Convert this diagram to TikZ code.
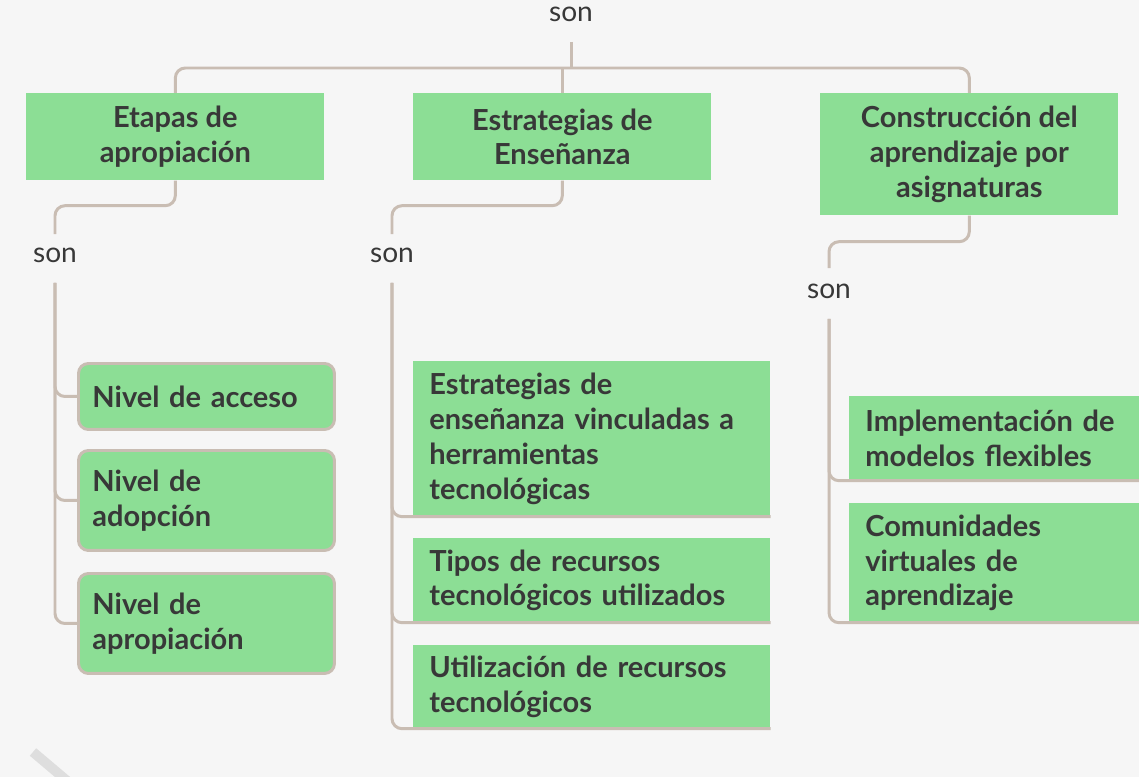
\documentclass[tikz,border=0pt]{standalone}
\usepackage{fontspec}
\setmainfont{Lato}
\usetikzlibrary{positioning}
\definecolor{boxgreen}{HTML}{8CDE95}
\definecolor{linkbeige}{HTML}{C9BDB3}
\definecolor{textgray}{HTML}{383838}
\definecolor{paper}{HTML}{F6F6F6}

\begin{document}
\begin{tikzpicture}[x=0.02cm, y={(0,-0.02cm)},
	link/.style={draw=linkbeige, line width=1.7pt, rounded corners=0.2cm},
	word/.style={text=textgray, font=\fontsize{16}{19}\selectfont, inner sep=0pt},
	topic/.style={fill=boxgreen, text=textgray, font=\bfseries\fontsize{16.5}{19.8}\selectfont, align=center, inner sep=0pt, anchor=north west, minimum width=5.96cm},
	level/.style={fill=boxgreen, draw=linkbeige, line width=1.7pt, rounded corners=0.2cm, text=textgray, font=\bfseries\fontsize{16.5}{19.8}\selectfont, align=left, inner xsep=0.28cm, inner ysep=0pt, text width=4.56cm, anchor=north west},
	item/.style={fill=boxgreen, text=textgray, font=\bfseries\fontsize{16.5}{19.8}\selectfont, align=left, inner xsep=0.32cm, inner ysep=0pt, anchor=north west}]
			\fill[paper] (0,0) rectangle (1139,777);
			\useasboundingbox (0,0) rectangle (1139,777);
			\begin{scope}
				\clip (0,0) rectangle (1139,777);
				\draw[line width=5.6pt, color=black!13] (33,752) -- (72,785);
			\end{scope}

			\node[word] (sonA) at (571,14) {son};
			\node[topic, minimum height=1.74cm] (etapas) at (26,93) {Etapas de\\apropiación};
			\node[topic, minimum height=1.74cm] (estrategias) at (413,93) {Estrategias de\\Enseñanza};
			\node[topic, minimum height=2.44cm] (construccion) at (820,93) {Construcción del\\aprendizaje por\\asignaturas};
			\coordinate (top) at (571,68);

			\node[word] (sonL) at (55,255) {son};
			\node[word] (sonM) at (392,255) {son};
			\node[word] (sonR) at (829,291) {son};

			\node[level, minimum height=1.32cm] (acceso) at (77,362) {Nivel de acceso};
			\node[level, minimum height=2cm] (adopcion) at (77,449) {Nivel de\\adopción};
			\node[level, minimum height=2cm] (apropiacion) at (77,572) {Nivel de\\apropiación};

			\node[item, text width=6.5cm, minimum height=3.1cm] (vinculadas) at (413,361) {Estrategias de\\enseñanza vinculadas a\\herramientas\\tecnológicas};
			\node[item, text width=6.5cm, minimum height=1.68cm] (tipos) at (413,538) {Tipos de recursos\\tecnológicos utilizados};
			\node[item, text width=6.5cm, minimum height=1.66cm] (utilizacion) at (413,645) {Utilización de recursos\\tecnológicos};

			\node[item, text width=5.16cm, minimum height=1.68cm] (modelos) at (849,396) {Implementación de\\modelos flexibles};
			\node[item, text width=5.16cm, minimum height=2.38cm] (comunidades) at (849,503) {Comunidades\\virtuales de\\aprendizaje};

			\draw[link] ([yshift=-0.56cm]sonA.center) -- (top);
			\draw[link] (etapas.north) |- (top) -| (construccion.north);
			\draw[link] (estrategias.north) -- (estrategias.north |- top);

			\draw[link] (etapas.south) -- ++(0,25) -| ([yshift=0.42cm]sonL.center);
			\draw[link] (estrategias.south) -- ++(0,25) -| ([yshift=0.42cm]sonM.center);
			\draw[link] (construccion.south) -- ++(0,26) -| ([yshift=0.46cm]sonR.center);

			\draw[link] ([yshift=-0.56cm]sonL.center) |- (acceso.west);
			\draw[link] ([yshift=-0.56cm]sonL.center) |- (adopcion.west);
			\draw[link] ([yshift=-0.56cm]sonL.center) |- (apropiacion.west);

			\draw[link] ([yshift=-0.56cm]sonM.center) |- (vinculadas.south east);
			\draw[link] ([yshift=-0.56cm]sonM.center) |- (tipos.south east);
			\draw[link] ([yshift=-0.56cm]sonM.center) |- (utilizacion.south east);

			\draw[link] ([yshift=-0.56cm]sonR.center) |- (modelos.south east);
			\draw[link] ([yshift=-0.56cm]sonR.center) |- (comunidades.south east);
		\end{tikzpicture}
\end{document}
